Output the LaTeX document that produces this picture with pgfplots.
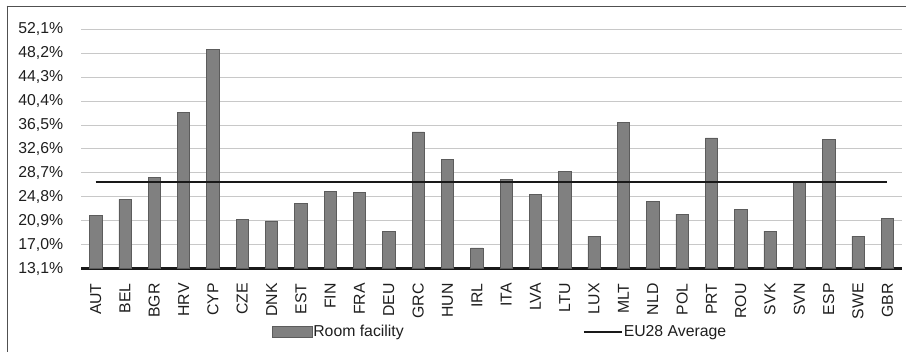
\documentclass[border=0pt]{standalone}
\usepackage{pgfplots}
\usepackage{pgfplotstable}
\pgfplotsset{compat=1.18}
\usepackage{fontspec}
\setmainfont{Liberation Sans}

\definecolor{barfill}{HTML}{808080}
\definecolor{baredge}{HTML}{5C5C5C}
\definecolor{gridgray}{HTML}{C8C8C8}
\definecolor{txt}{HTML}{1E1E1E}
\definecolor{framegray}{HTML}{505050}

% Share of room facility by country
\pgfplotstableread{
idx country value
0  AUT 21.8
1  BEL 24.4
2  BGR 28.0
3  HRV 38.5
4  CYP 48.8
5  CZE 21.1
6  DNK 20.9
7  EST 23.8
8  FIN 25.7
9  FRA 25.5
10 DEU 19.2
11 GRC 35.4
12 HUN 30.9
13 IRL 16.5
14 ITA 27.6
15 LVA 25.2
16 LTU 29.0
17 LUX 18.4
18 MLT 36.9
19 NLD 24.1
20 POL 22.0
21 PRT 34.4
22 ROU 22.8
23 SVK 19.2
24 SVN 27.2
25 ESP 34.1
26 SWE 18.4
27 GBR 21.3
}\roomdata

\begin{document}
\begin{tikzpicture}[x=1pt,y=1pt]
\path[use as bounding box] (0,0) rectangle (906,352);
\draw[framegray, line width=1.8pt] (6.6,345.5) -- (906,345.5);
\draw[framegray, line width=1.4pt] (7.5,346.4) -- (7.5,0);
\begin{axis}[
  at={(81pt,83.3pt)}, anchor=south west,
  scale only axis, width=821pt, height=239.4pt,
  xmin=-0.5, xmax=27.5, ymin=13.1, ymax=52.1,
  axis x line*=bottom, axis y line*=left,
  x axis line style={line width=3pt, color=black!90},
  y axis line style={draw=none},
  xtick={0,...,27},
  xticklabels from table={\roomdata}{country},
  ytick={13.1,17.0,20.9,24.8,28.7,32.6,36.5,40.4,44.3,48.2,52.1},
  yticklabels={{13,1\%},{17,0\%},{20,9\%},{24,8\%},{28,7\%},{32,6\%},{36,5\%},{40,4\%},{44,3\%},{48,2\%},{52,1\%}},
  major tick length=0pt,
  ymajorgrids, major grid style={gridgray, line width=1pt},
  /pgf/number format/assume math mode=true,
  tick label style={font=\fontsize{15.8}{18}\selectfont, text=txt},
  yticklabel style={anchor=east, inner sep=0pt, xshift=-17.7pt},
  xticklabel style={rotate=90, anchor=east, inner sep=0pt, xshift=-14.5pt},
  clip=false,
  legend columns=2,
  legend style={
    at={(0.2323,-0.2632)}, anchor=west,
    draw=none, fill=none, inner sep=0pt, outer sep=0pt,
    font=\fontsize{15.8}{18}\selectfont, text=txt,
    nodes={inner sep=0pt, inner xsep=1pt},
    /tikz/every even column/.append style={column sep=178pt},
  },
]
\addplot[ybar, bar width=12.3pt, fill=barfill, draw=baredge, line width=0.6pt,
  legend image code/.code={\fill[barfill, draw=baredge, line width=0.6pt] (0pt,-5.8pt) rectangle (40pt,5.8pt);}]
  table[x=idx, y=value] {\roomdata};
\addlegendentry{Room facility}
\addplot[black!90, line width=2pt, mark=none,
  legend image code/.code={\draw[black!90, line width=2pt] (0pt,0pt) -- (38pt,0pt);}]
  coordinates {(0,27.2) (27,27.2)};
\addlegendentry{EU28 Average}
\end{axis}
\end{tikzpicture}
\end{document}
